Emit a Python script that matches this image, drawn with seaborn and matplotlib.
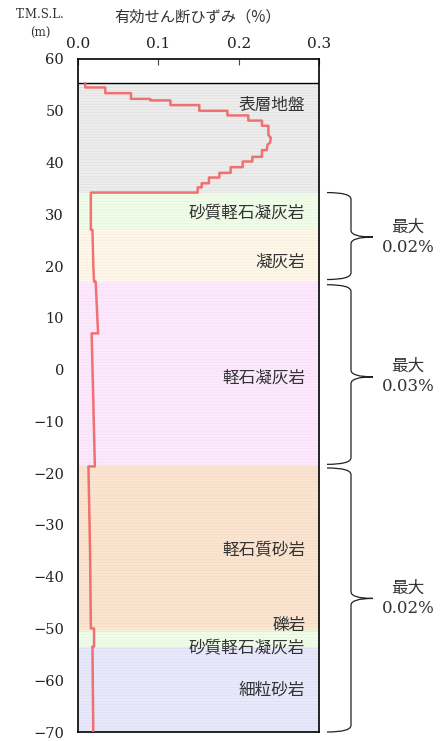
import matplotlib
matplotlib.use("Agg")
import matplotlib.pyplot as plt
import matplotlib.transforms as mtransforms
from matplotlib.path import Path
from matplotlib.patches import PathPatch
import pandas as pd
import seaborn as sns

sns.set_style("white")
plt.rcParams["font.family"] = ["DejaVu Serif", "Noto Sans CJK JP"]
plt.rcParams["hatch.linewidth"] = 0.5

CJK = ["Noto Sans CJK JP", "DejaVu Sans"]
NUM = ["DejaVu Serif", "Noto Sans CJK JP"]

# ─── DATA ────────────────────────────────────────────────────────────────────
# strain profile (%), elevation (m)
strain = [0.009, 0.009, 0.034, 0.034, 0.066, 0.066, 0.090, 0.090, 0.115, 0.115,
          0.151, 0.151, 0.186, 0.186, 0.212, 0.212, 0.229, 0.229, 0.237, 0.237,
          0.240, 0.239, 0.236, 0.235, 0.229, 0.229, 0.217, 0.217, 0.205, 0.205,
          0.190, 0.190, 0.176, 0.176, 0.163, 0.163, 0.154, 0.154, 0.149, 0.149,
          0.016, 0.016, 0.018, 0.019, 0.020, 0.022, 0.025, 0.017, 0.021, 0.013,
          0.015, 0.016, 0.020, 0.020, 0.018, 0.019]
elev = [55.3, 54.5, 54.5, 53.4, 53.4, 52.3, 52.3, 52.0, 52.0, 51.1,
        51.1, 50.0, 50.0, 49.1, 49.1, 48.1, 48.1, 47.1, 47.1, 45.3,
        44.8, 43.8, 43.5, 42.4, 42.4, 41.1, 41.1, 40.2, 40.2, 39.1,
        39.1, 38.0, 38.0, 37.1, 37.1, 36.0, 36.0, 35.2, 35.2, 34.2,
        34.2, 27.0, 27.0, 20.2, 17.0, 17.0, 7.0, 7.0, -18.7, -18.7,
        -35.0, -50.0, -50.0, -53.5, -53.5, -70.0]

layer_names = ["表層地盤", "砂質軽石凝灰岩", "凝灰岩", "軽石凝灰岩",
               "軽石質砂岩", "礫岩", "砂質軽石凝灰岩", "細粒砂岩"]
layer_top = [55.3, 34.2, 27.0, 17.0, -18.7, -50.0, -50.7, -53.5]
layer_bot = [34.2, 27.0, 17.0, -18.7, -50.0, -50.7, -53.5, -70.0]
layer_label_y = [51.1, 30.3, 20.8, -1.6, -34.8, -49.4, -53.8, -62.0]
layer_fill = ["#EDEDED", "#F0FDE9", "#FFF8EA", "#FDE9FD",
              "#FBE5D1", "#F8EFD6", "#F0FDE9", "#E9E9FC"]
layer_hatch = ["#E0E0E0", "#E6F5DE", "#F5EDDE", "#F6DEF6",
               "#F3DAC5", "#EEE2C8", "#E6F5DE", "#DEDEF3"]

brace_top = [34.2, 16.4, -19.0]
brace_bot = [17.4, -18.3, -70.0]
brace_tip = [25.6, -1.4, -44.2]
brace_text = ["最大\n0.02%", "最大\n0.03%", "最大\n0.02%"]

xticks = [0.0, 0.1, 0.2, 0.3]
yticks = list(range(60, -80, -10))

# ─── FIGURE ──────────────────────────────────────────────────────────────────
fig = plt.figure(figsize=(4.45, 7.41), dpi=100)
ax = fig.add_axes([78 / 445, 1 - 732 / 741, 241 / 445, 673 / 741])

for top, bot, fc, hc in zip(layer_top, layer_bot, layer_fill, layer_hatch):
    ax.axhspan(bot, top, facecolor=fc, edgecolor=hc, hatch="------",
               linewidth=0, zorder=0)
ax.axhline(layer_top[0], color="black", lw=1.0, zorder=1)

df = pd.DataFrame({"strain": strain, "elev": elev})
sns.lineplot(data=df, x="strain", y="elev", sort=False, estimator=None,
             color="#F06464", lw=1.8, alpha=0.9, ax=ax, zorder=3)

for name, ly in zip(layer_names, layer_label_y):
    ax.text(0.283, ly, name, ha="right", va="center", fontsize=12,
            color="#333333", family=CJK, zorder=4)

ax.set_xlim(0, 0.3)
ax.set_ylim(-70, 60)
ax.set_xticks(xticks)
ax.set_xticklabels([f"{t:.1f}" for t in xticks], family=NUM, fontsize=11)
ax.set_yticks(yticks)
ax.set_yticklabels([f"{t}" if t >= 0 else f"\u2212{-t}" for t in yticks],
                   family=NUM, fontsize=10.5)
ax.xaxis.tick_top()
ax.tick_params(axis="both", direction="in", length=4, width=0.8,
               color="#444444", pad=6, labelcolor="#222222")
ax.tick_params(axis="y", pad=10)
ax.set_xlabel("")
ax.set_ylabel("")
for sp in ax.spines.values():
    sp.set_visible(True)
    sp.set_color("black")
    sp.set_linewidth(1.2)

fig.text(198 / 445, 1 - 17 / 741, "有効せん断ひずみ（%）", ha="center",
         va="center", fontsize=11, family=CJK, color="#333333")
fig.text(40 / 445, 1 - 14 / 741, "T.M.S.L.", ha="center", va="center",
         fontsize=8.5, family=NUM, color="#333333")
fig.text(40 / 445, 1 - 33 / 741, "(m)", ha="center", va="center",
         fontsize=8.5, family=NUM, color="#333333")

# ─── BRACES ──────────────────────────────────────────────────────────────────
trans = mtransforms.blended_transform_factory(ax.transAxes, ax.transData)
ax_l, ax_w = 78 / 445, 241 / 445
bx0, bx1, bx2 = [(v / 445 - ax_l) / ax_w for v in (327, 351, 373)]
r = 1.3  # curve size in data units
codes = [Path.MOVETO, Path.CURVE3, Path.CURVE3,
         Path.LINETO, Path.CURVE3, Path.CURVE3,
         Path.MOVETO, Path.CURVE3, Path.CURVE3,
         Path.LINETO, Path.CURVE3, Path.CURVE3]
for top, bot, tip, txt in zip(brace_top, brace_bot, brace_tip, brace_text):
    verts = [(bx0, top), (bx1, top), (bx1, top - r),
             (bx1, tip + r), (bx1, tip), (bx2, tip),
             (bx2, tip), (bx1, tip), (bx1, tip - r),
             (bx1, bot + r), (bx1, bot), (bx0, bot)]
    patch = PathPatch(Path(verts, codes), transform=trans, fill=False,
                      edgecolor="#222222", lw=0.9, clip_on=False)
    ax.add_patch(patch)
    ax.text((408 / 445 - ax_l) / ax_w, tip, txt, transform=trans,
            ha="center", va="center", fontsize=12, family=NUM,
            color="#333333", linespacing=1.25, clip_on=False)

fig.savefig("out.png", dpi=100)
